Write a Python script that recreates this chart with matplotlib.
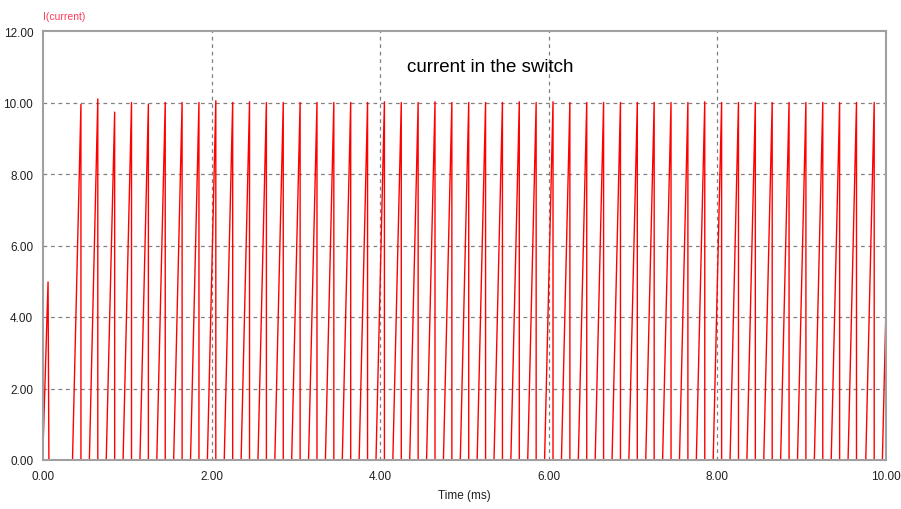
import matplotlib
matplotlib.use("Agg")
import matplotlib.pyplot as plt

# switch current: each pulse ramps up and drops to 0 at its end time (ms)
start_spike_t = [0.0, 0.06, 0.07]
start_spike_i = [0.3, 4.98, 0.0]

pulse_end = [0.45, 0.65, 0.85, 1.05, 1.25, 1.45, 1.65, 1.85, 2.05, 2.25,
             2.45, 2.65, 2.85, 3.05, 3.25, 3.45, 3.65, 3.85, 4.05, 4.25,
             4.45, 4.65, 4.85, 5.05, 5.25, 5.45, 5.65, 5.85, 6.05, 6.25,
             6.45, 6.65, 6.85, 7.05, 7.25, 7.45, 7.65, 7.85, 8.05, 8.25,
             8.45, 8.65, 8.85, 9.05, 9.25, 9.45, 9.65, 9.86]
pulse_peak = [9.95, 10.10, 9.73, 10.00, 9.95, 10.00, 10.00, 10.00, 10.05, 10.00,
              10.02, 10.00, 10.00, 10.00, 10.00, 10.00, 10.00, 10.00, 10.02, 10.00,
              10.00, 10.02, 10.00, 10.00, 10.00, 10.00, 10.02, 10.00, 10.02, 10.00,
              10.00, 10.00, 10.00, 10.00, 10.00, 10.00, 10.00, 10.02, 10.00, 10.00,
              10.00, 10.00, 10.00, 10.00, 10.00, 10.00, 10.00, 10.00]
ramp_ms = 0.1
last_ramp_t = [9.957, 10.0]
last_ramp_i = [0.0, 4.3]

t = list(start_spike_t)
i = list(start_spike_i)
for te, pk in zip(pulse_end, pulse_peak):
    t += [te - ramp_ms, te, te]
    i += [0.0, pk, 0.0]
t += last_ramp_t
i += last_ramp_i

plt.rcParams['font.family'] = ['Liberation Sans', 'DejaVu Sans']

fig = plt.figure(figsize=(9.01, 5.10), dpi=100)
ax = fig.add_axes([43 / 901, 49 / 510, 843 / 901, 429 / 510])
ax.plot(t, i, color="#ff0000", lw=1.0)

ax.set_xlim(0, 10)
ax.set_ylim(0, 12)
ticks_x = [0, 2, 4, 6, 8, 10]
ticks_y = [0, 2, 4, 6, 8, 10, 12]
ax.set_xticks(ticks_x)
ax.set_yticks(ticks_y)
ax.set_xticklabels([f"{v:.2f}" for v in ticks_x])
ax.set_yticklabels([f"{v:.2f}" for v in ticks_y])
ax.tick_params(length=0, labelsize=8.5, colors="#202020", pad=7)
for sp in ax.spines.values():
    sp.set_color("#a0a0a0")
    sp.set_linewidth(1.5)

for g in [2, 4, 6, 8]:
    ax.axvline(g, color="#808080", lw=0.9, ls=(0, (3, 3)), zorder=0)
for g in [2, 4, 6, 8, 10]:
    ax.axhline(g, color="#808080", lw=0.9, ls=(0, (3, 3)), zorder=0)

ax.set_xlabel("Time (ms)", fontsize=8.5, color="#202020", labelpad=5)
fig.text(43 / 901, 1 - 17 / 510, "I(current)", color="#ff3b5c", fontsize=7.5,
         ha="left", va="center")
ax.text(5.31, 11.0, "current in the switch", fontsize=13.5, ha="center", va="center")

fig.savefig("out.png", dpi=100)
